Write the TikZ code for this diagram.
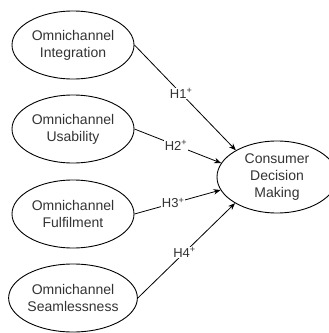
\documentclass[tikz,border=0pt]{standalone}
\usepackage{fontspec}
\setmainfont{Liberation Sans}
\usetikzlibrary{shapes.geometric,arrows.meta}
\definecolor{txt}{HTML}{333333}
\tikzset{
  construct/.style={draw=black, line width=0.9pt, ellipse, minimum width=122pt, minimum height=68pt, inner sep=0pt, align=center, text=txt, font=\fontsize{14}{17}\selectfont},
  outcome/.style={construct, minimum width=120pt, minimum height=72pt},
  hyp/.style={draw=black, line width=0.8pt, -{Stealth[length=7pt,width=5.5pt]}},
  hlabel/.style={fill=white, inner sep=1pt, text=txt, font=\fontsize{13}{15}\selectfont}
}
\begin{document}
\begin{tikzpicture}[x=1pt,y=-1pt]
\useasboundingbox (0,0) rectangle (329,333);
\node[construct] (oi) at (73,45) {Omnichannel\\Integration};
\node[construct] (ou) at (73,129) {Omnichannel\\Usability};
\node[construct] (of) at (73,214) {Omnichannel\\Fulfilment};
\node[construct] (os) at (73,298) {Omnichannel\\Seamlessness};
\node[outcome] (cdm) at (277,177) {Consumer\\Decision\\Making};
\draw[hyp] (oi.east) -- node[hlabel, pos=0.46] {H1\textsuperscript{+}} (cdm.147);
\draw[hyp] (ou.east) -- node[hlabel, pos=0.48] {H2\textsuperscript{+}} (cdm.166);
\draw[hyp] (of.east) -- node[hlabel, pos=0.45] {H3\textsuperscript{+}} (cdm.193);
\draw[hyp] (os.east) -- node[hlabel, pos=0.48] {H4\textsuperscript{+}} (cdm.212);
\end{tikzpicture}
\end{document}
